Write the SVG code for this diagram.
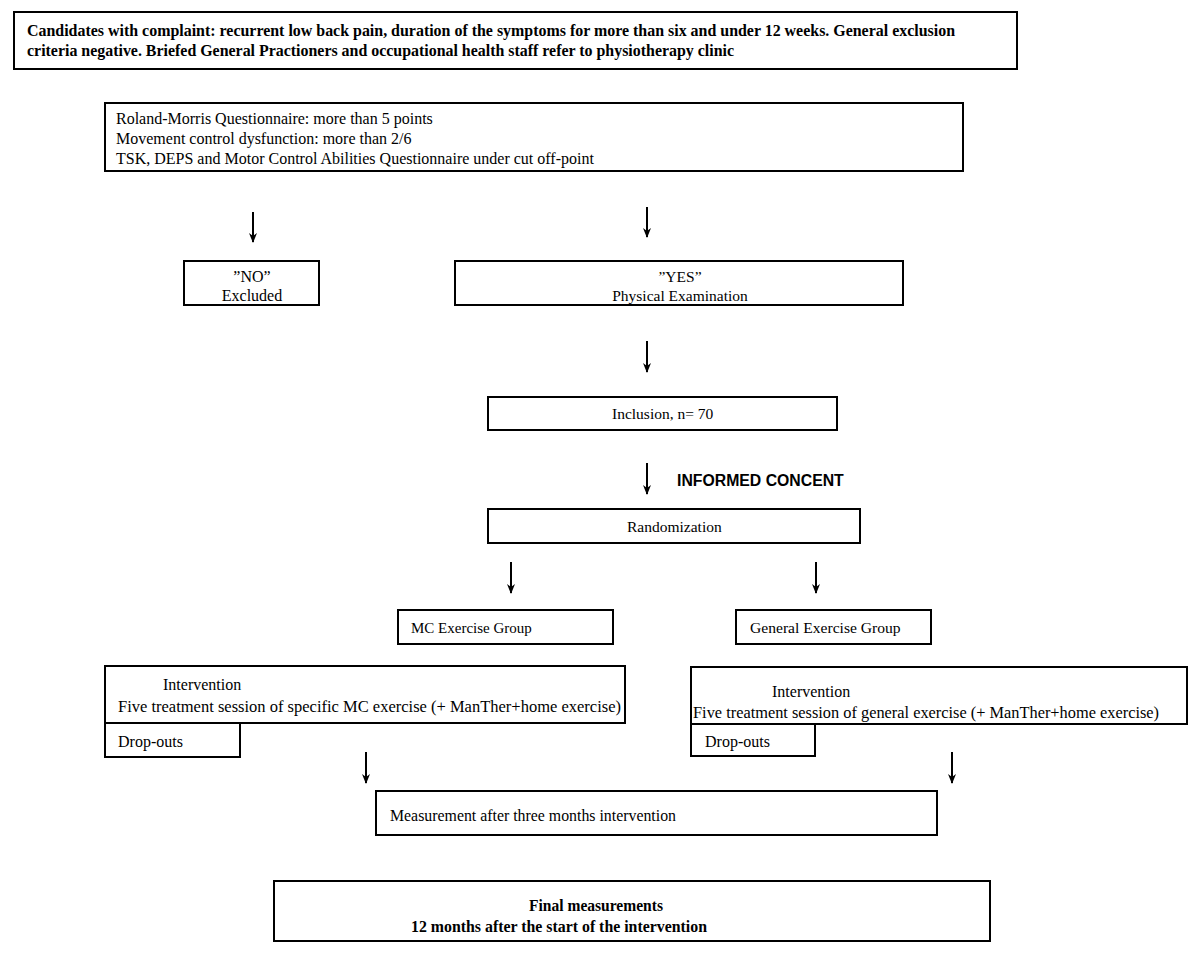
<svg xmlns="http://www.w3.org/2000/svg" width="1200" height="958" viewBox="0 0 1200 958">
<defs>
<style>
.box{fill:#fff;stroke:#000;stroke-width:2}
.t{font-family:"Liberation Serif","Times New Roman",serif;font-size:16px;fill:#000}
.b{font-weight:bold;font-size:17px}
.s{font-family:"Liberation Sans",Arial,sans-serif;font-size:15.8px;font-weight:bold;fill:#000}
.c{text-anchor:middle}
.arr{stroke:#000;stroke-width:2;fill:none;marker-end:url(#ah)}
</style>
<marker id="ah" viewBox="0 0 10 10" refX="9" refY="5" markerWidth="5" markerHeight="5" orient="auto" markerUnits="strokeWidth">
<path d="M0,1 L10,5 L0,9 L3,5 Z" fill="#000"/>
</marker>
</defs>
<rect width="1200" height="958" fill="#fff"/>

<g id="connectors">
<line class="arr" x1="253" y1="212" x2="253" y2="242"/>
<line class="arr" x1="647" y1="207" x2="647" y2="237"/>
<line class="arr" x1="647" y1="341" x2="647" y2="372"/>
<line class="arr" x1="647" y1="463" x2="647" y2="494"/>
<line class="arr" x1="511" y1="562" x2="511" y2="593"/>
<line class="arr" x1="816" y1="562" x2="816" y2="593"/>
<line class="arr" x1="366" y1="752" x2="366" y2="783"/>
<line class="arr" x1="952" y1="752" x2="952" y2="783"/>
</g>

<g id="n-candidates">
<rect class="box" x="14" y="12" width="1003" height="57"/>
<text class="t b" x="27" y="36" textLength="928" lengthAdjust="spacingAndGlyphs">Candidates with complaint: recurrent low back pain, duration of the symptoms for more than six and under 12 weeks. General exclusion</text>
<text class="t b" x="27" y="56" textLength="707" lengthAdjust="spacingAndGlyphs">criteria negative. Briefed General Practioners and occupational health staff refer to physiotherapy clinic</text>
</g>

<g id="n-criteria">
<rect class="box" x="105" y="103" width="858" height="68"/>
<text class="t" x="116" y="124">Roland-Morris Questionnaire: more than 5 points</text>
<text class="t" x="116" y="144">Movement control dysfunction: more than 2/6</text>
<text class="t" x="116" y="164">TSK, DEPS and Motor Control Abilities Questionnaire under cut off-point</text>
</g>

<g id="n-no">
<rect class="box" x="184" y="261" width="135" height="44"/>
<text class="t c" x="252" y="282">”NO”</text>
<text class="t c" x="252" y="301">Excluded</text>
</g>

<g id="n-yes">
<rect class="box" x="455" y="261" width="448" height="44"/>
<text class="t c" x="680" y="282" style="font-size:15.5px">”YES”</text>
<text class="t c" x="680" y="301" style="font-size:15.5px">Physical Examination</text>
</g>

<g id="n-inclusion">
<rect class="box" x="488" y="397" width="349" height="33"/>
<text class="t" x="612" y="419" style="font-size:15.5px">Inclusion, n= 70</text>
</g>

<text id="informed" class="s" x="677" y="486">INFORMED CONCENT</text>

<g id="n-random">
<rect class="box" x="488" y="509" width="372" height="34"/>
<text class="t" x="627" y="532" style="font-size:15.5px">Randomization</text>
</g>

<g id="n-mc">
<rect class="box" x="398" y="610" width="215" height="34"/>
<text class="t" x="411" y="633" style="font-size:15px">MC Exercise Group</text>
</g>

<g id="n-general">
<rect class="box" x="736" y="610" width="195" height="34"/>
<text class="t" x="750" y="633" style="font-size:15.6px">General Exercise Group</text>
</g>

<g id="n-int-left">
<rect class="box" x="105" y="666" width="520" height="57"/>
<text class="t" x="163" y="690">Intervention</text>
<text class="t" x="118" y="712" textLength="503" lengthAdjust="spacingAndGlyphs" style="font-size:16.5px">Five treatment session of specific MC exercise (+ ManTher+home exercise)</text>
</g>

<g id="n-drop-left">
<rect class="box" x="105" y="723" width="135" height="34"/>
<text class="t" x="118" y="747">Drop-outs</text>
</g>

<g id="n-int-right">
<rect class="box" x="691" y="667" width="496" height="57"/>
<text class="t" x="772" y="697">Intervention</text>
<text class="t" x="693" y="718" textLength="466" lengthAdjust="spacingAndGlyphs" style="font-size:16.4px">Five treatment session of general exercise (+ ManTher+home exercise)</text>
</g>

<g id="n-drop-right">
<rect class="box" x="691" y="724" width="124" height="32"/>
<text class="t" x="705" y="747">Drop-outs</text>
</g>

<g id="n-measure">
<rect class="box" x="376" y="791" width="561" height="44"/>
<text class="t" x="390" y="821" textLength="286" lengthAdjust="spacingAndGlyphs">Measurement after three months intervention</text>
</g>

<g id="n-final">
<rect class="box" x="274" y="881" width="716" height="60"/>
<text class="t b" x="529" y="911" textLength="134" lengthAdjust="spacingAndGlyphs">Final measurements</text>
<text class="t b" x="411" y="932" textLength="296" lengthAdjust="spacingAndGlyphs">12 months after the start of the intervention</text>
</g>
</svg>
